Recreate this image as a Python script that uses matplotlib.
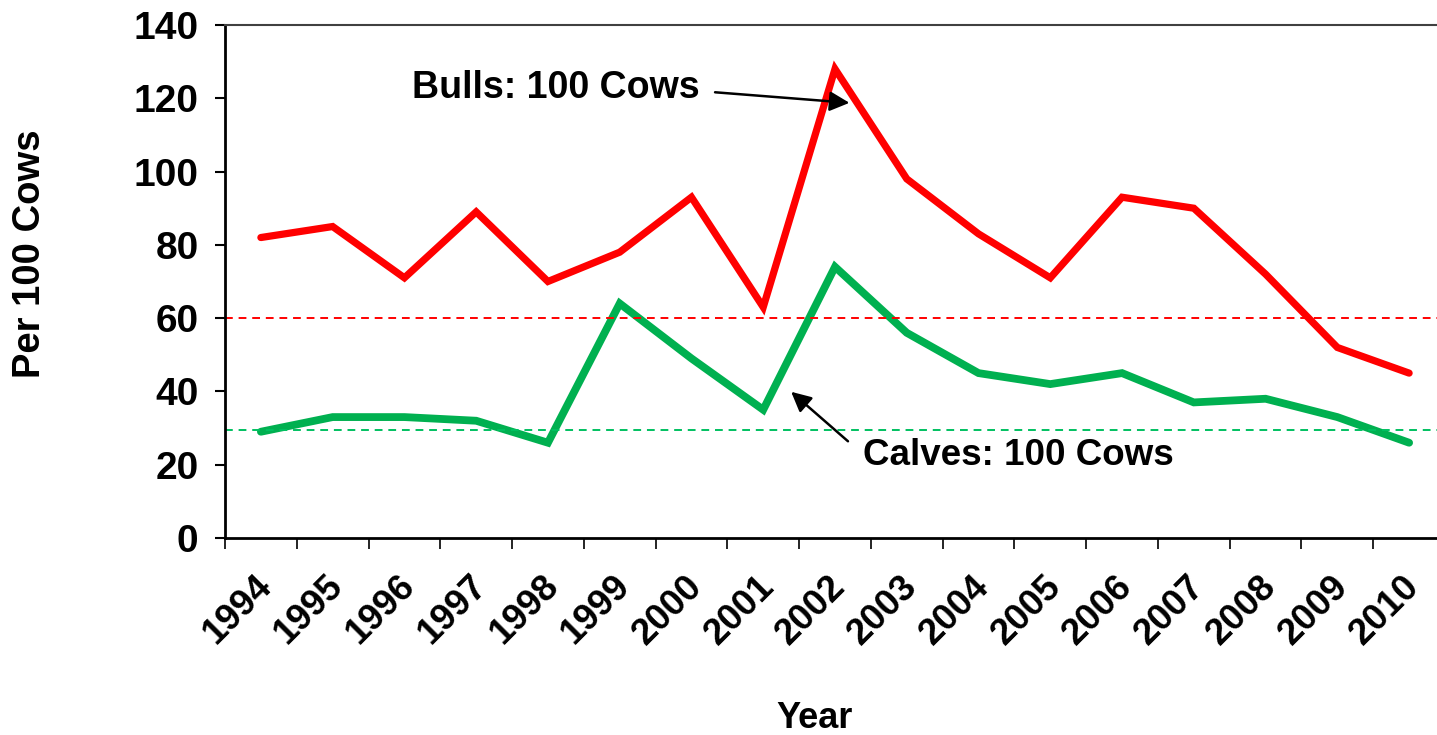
import numpy as np
import matplotlib
matplotlib.use("Agg")
import matplotlib.pyplot as plt
import matplotlib.transforms as mtransforms
from matplotlib.ticker import FixedLocator, MultipleLocator

years = ["1994", "1995", "1996", "1997", "1998", "1999", "2000", "2001", "2002",
         "2003", "2004", "2005", "2006", "2007", "2008", "2009", "2010"]
bulls = [82, 85, 71, 89, 70, 78, 93, 63, 128, 98, 83, 71, 93, 90, 72, 52, 45]
calves = [29, 33, 33, 32, 26, 64, 49, 35, 74, 56, 45, 42, 45, 37, 38, 33, 26]
bulls_ref = 60
calves_ref = 29.5

plt.rcParams['font.family'] = ['Liberation Sans', 'DejaVu Sans']
plt.rcParams['font.weight'] = 'bold'

fig = plt.figure(figsize=(14.37, 7.35), dpi=100)
ax = fig.add_axes([225 / 1437, 197 / 735, 1220 / 1437, 513 / 735])

x = np.arange(len(years))
ax.plot(x, bulls, color='#FF0000', lw=5.2, solid_joinstyle='miter', solid_capstyle='round')
ax.plot(x, calves, color='#00B050', lw=5.6, solid_joinstyle='miter', solid_capstyle='round')
ax.axhline(bulls_ref, color='#FF0000', lw=1.4, ls=(0, (4, 3)))
ax.axhline(calves_ref, color='#00C060', lw=1.4, ls=(0, (4, 3)))

ax.set_xlim(-0.5, len(years) - 0.5)
ax.set_ylim(0, 140)
ax.yaxis.set_major_locator(MultipleLocator(20))
ax.tick_params(axis='y', direction='out', length=7, width=1.5, pad=12, labelsize=28)

ax.set_xticks(x)
ax.set_xticklabels(years, rotation=45, ha='right', va='top', rotation_mode='anchor', fontsize=26.5)
ax.tick_params(axis='x', which='major', length=0, pad=22)
ax.xaxis.set_minor_locator(FixedLocator(np.arange(-0.5, len(years), 1.0)))
ax.tick_params(axis='x', which='minor', direction='out', length=8, width=1.2)
shift = mtransforms.ScaledTranslation(-7 / 100, 0, fig.dpi_scale_trans)
for lbl in ax.get_xticklabels():
    lbl.set_transform(lbl.get_transform() + shift)

for s in ['left', 'bottom']:
    ax.spines[s].set_linewidth(2)
    ax.spines[s].set_color('black')
ax.spines['top'].set_linewidth(1.5)
ax.spines['top'].set_color('#404040')
ax.spines['right'].set_visible(False)

ax.text(4.11, 122.8, "Bulls: 100 Cows", ha='center', va='center', fontsize=27, fontweight='bold')
ax.annotate('', xy=(8.24, 118.7), xytext=(6.29, 121.7),
            arrowprops=dict(arrowstyle='-|>', color='black', lw=1.8, mutation_scale=30))
ax.text(10.56, 22.4, "Calves: 100 Cows", ha='center', va='center', fontsize=26.5, fontweight='bold')
ax.annotate('', xy=(7.36, 40.4), xytext=(8.21, 25.9),
            arrowprops=dict(arrowstyle='-|>', color='black', lw=1.8, mutation_scale=30))

fig.text(30 / 1437, 1 - 254 / 735, "Per 100 Cows", rotation=90, ha='center', va='center',
         fontsize=27.5, fontweight='bold')
fig.text(815 / 1437, 1 - 718 / 735, "Year", ha='center', va='center', fontsize=26, fontweight='bold')

fig.savefig("out.png", dpi=100)
